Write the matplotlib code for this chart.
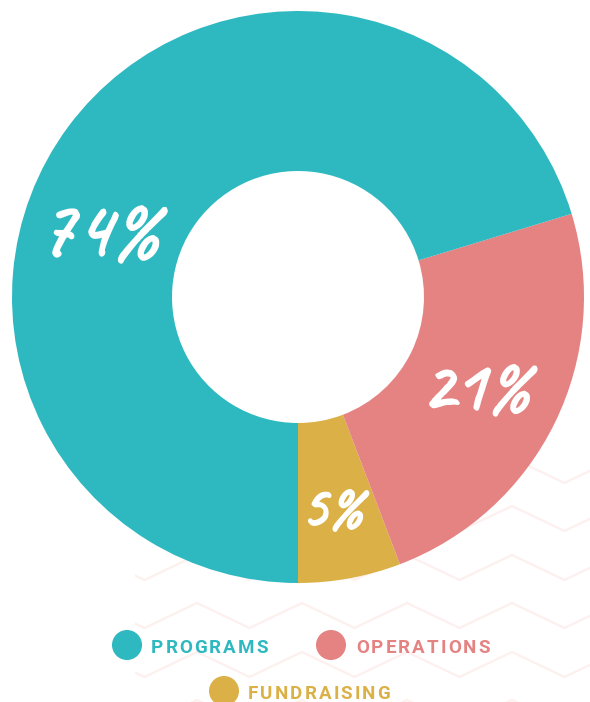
import numpy as np
import matplotlib.pyplot as plt
import matplotlib.patheffects as pe

# shares as drawn (wedge sizes) and the printed labels
categories = ['FUNDRAISING', 'OPERATIONS', 'PROGRAMS']
shares = [5.8, 23.9, 70.3]
pct_labels = ['5%', '21%', '74%']
colors = ['#dbb147', '#e58282', '#2eb8c0']

W, H = 590, 702
fig = plt.figure(figsize=(W / 100, H / 100), dpi=100)
ax = fig.add_axes([0, 0, 1, 1])

# faint zigzag background behind the lower half
zz_x = np.arange(92, 640, 52.5)
for row_y in [458, 506, 555, 603, 652, 700, 748]:
    ys = np.where(np.arange(len(zz_x)) % 2 == 0, row_y, row_y + 25)
    ax.plot(zz_x, H - ys, color='#fdf0ee', lw=1.6, zorder=0)
ax.fill_between([0, 134], 0, H, color='white', zorder=0.5)

cx, cy, R = 298, H - 297, 286
ax.pie(shares, colors=colors, startangle=-90, counterclock=True,
       center=(cx, cy), radius=R, frame=True,
       wedgeprops=dict(width=R - 126, linewidth=0))
ax.set_xlim(0, W)
ax.set_ylim(0, H)
ax.set_aspect('equal')
ax.axis('off')

# percent labels on the ring (hand lettered in the original)
hand = ['Caveat', 'Kalam', 'DejaVu Sans']
label_pos = [(-80, 215), (-27, 203), (162, 206)]
label_size = [42, 52, 58]
for txt, (ang, r), fs in zip(pct_labels, label_pos, label_size):
    a = np.radians(ang)
    ax.text(cx + r * np.cos(a) - 3, cy + r * np.sin(a) - 4, txt, color='white',
            fontsize=fs, ha='center', va='center', family=hand, zorder=5,
            path_effects=[pe.withStroke(linewidth=1.8, foreground='white')])

# legend with tracked capitals
renderer = fig.canvas.get_renderer()
legend_font = dict(fontsize=13.5, fontweight='bold', family=['Roboto', 'DejaVu Sans'])


def char_widths(s):
    out = []
    for ch in s:
        t = ax.text(0, 0, ch, **legend_font)
        out.append(t.get_window_extent(renderer).width)
        t.remove()
    return out


def spaced_text(x, y, s, color, tracking):
    for ch, w in zip(s, char_widths(s)):
        ax.text(x, y, ch, color=color, ha='left', va='baseline', zorder=5, **legend_font)
        x += w + tracking


# PROGRAMS spans 151..268 px in the reference
tracking = (117 - sum(char_widths('PROGRAMS'))) / 7

legend_items = [('PROGRAMS', 127, 645, 151, 653),
                ('OPERATIONS', 331, 645, 356, 653),
                ('FUNDRAISING', 224, 691, 248, 699)]
for name, dot_x, dot_y, tx, base in legend_items:
    col = colors[categories.index(name)]
    ax.add_patch(plt.Circle((dot_x, H - dot_y), 14.3, color=col, zorder=5))
    spaced_text(tx, H - base, name, col, tracking)

fig.savefig('out.png', dpi=100)
